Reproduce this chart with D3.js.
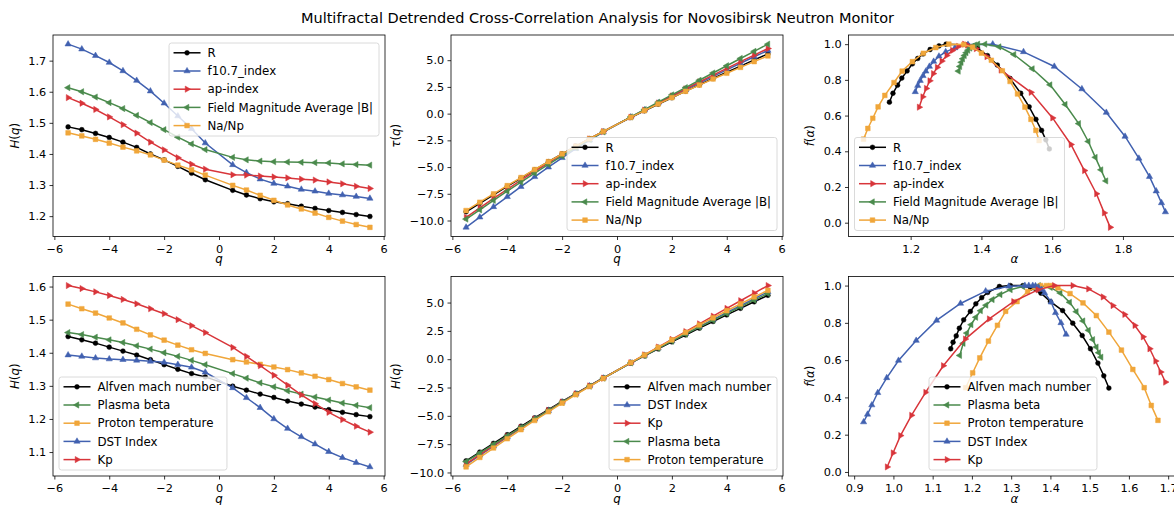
<!DOCTYPE html>
<html><head><meta charset="utf-8">
<script src="https://cdn.jsdelivr.net/npm/d3@7"></script>
<style>
body{margin:0;background:#fff;}
svg text{font-family:"DejaVu Sans",sans-serif;fill:#000;}
</style></head><body>
<svg id="chart" width="1174" height="505"></svg>
<script>
// ---------------- data ----------------
const qValues = [-5.5,-5,-4.5,-4,-3.5,-3,-2.5,-2,-1.5,-1,-0.5,0.5,1,1.5,2,2.5,3,3.5,4,4.5,5,5.5];

const topLabels = ["R","f10.7_index","ap-index","Field Magnitude Average |B|","Na/Np"];
const bottomLabels = ["Alfven mach number","Plasma beta","Proton temperature","DST Index","Kp"];
const bottomTauLabels = ["Alfven mach number","DST Index","Kp","Plasma beta","Proton temperature"];

// H(q) top row
const H_R     = [1.487,1.478,1.466,1.453,1.438,1.421,1.400,1.381,1.360,1.338,1.317,1.283,1.268,1.256,1.246,1.240,1.232,1.225,1.218,1.212,1.205,1.199];
const H_f107  = [1.753,1.737,1.716,1.694,1.667,1.636,1.602,1.563,1.522,1.481,1.435,1.365,1.340,1.319,1.305,1.296,1.286,1.280,1.273,1.268,1.263,1.257];
const H_ap    = [1.581,1.563,1.543,1.519,1.494,1.467,1.438,1.413,1.388,1.367,1.351,1.333,1.332,1.329,1.326,1.323,1.319,1.316,1.310,1.304,1.296,1.289];
const H_field = [1.613,1.600,1.583,1.565,1.546,1.524,1.501,1.478,1.454,1.432,1.414,1.389,1.381,1.377,1.375,1.374,1.373,1.372,1.371,1.368,1.366,1.364];
const H_nanp  = [1.468,1.458,1.447,1.435,1.422,1.410,1.397,1.380,1.364,1.349,1.332,1.299,1.284,1.267,1.251,1.236,1.223,1.210,1.196,1.184,1.173,1.164];

// tau(q) top row
const tau_R     = [-9.18,-8.39,-7.60,-6.81,-6.03,-5.26,-4.50,-3.76,-3.04,-2.34,-1.66,-0.36,0.27,0.88,1.49,2.10,2.70,3.29,3.87,4.45,5.03,5.59];
const tau_f107  = [-10.64,-9.69,-8.72,-7.78,-6.83,-5.91,-5.01,-4.13,-3.28,-2.48,-1.72,-0.32,0.34,0.98,1.61,2.24,2.86,3.48,4.09,4.71,5.32,5.91];
const tau_ap    = [-9.70,-8.82,-7.94,-7.08,-6.23,-5.40,-4.60,-3.83,-3.08,-2.37,-1.68,-0.33,0.33,0.99,1.65,2.31,2.96,3.61,4.24,4.87,5.48,6.09];
const tau_field = [-9.87,-9.00,-8.12,-7.26,-6.41,-5.57,-4.75,-3.96,-3.18,-2.43,-1.71,-0.31,0.38,1.07,1.75,2.44,3.12,3.80,4.48,5.16,5.83,6.50];
const tau_nanp  = [-9.07,-8.29,-7.51,-6.74,-5.98,-5.23,-4.49,-3.76,-3.05,-2.35,-1.67,-0.35,0.28,0.90,1.50,2.09,2.67,3.24,3.78,4.33,4.87,5.40];

// f(alpha) top row
const alpha_R     = [1.592,1.582,1.570,1.554,1.535,1.511,1.481,1.445,1.417,1.389,1.360,1.300,1.280,1.255,1.235,1.220,1.205,1.190,1.175,1.163,1.150,1.140];
const fa_R        = [0.413,0.464,0.517,0.579,0.649,0.725,0.808,0.883,0.936,0.977,0.996,1.000,0.990,0.970,0.945,0.920,0.890,0.850,0.810,0.770,0.725,0.675];
const alpha_f107  = [1.920,1.909,1.894,1.875,1.845,1.806,1.753,1.684,1.606,1.519,1.432,1.362,1.325,1.299,1.280,1.265,1.253,1.243,1.235,1.227,1.220,1.213];
const fa_f107     = [0.060,0.111,0.177,0.258,0.360,0.483,0.617,0.749,0.875,0.957,1.000,0.998,0.979,0.957,0.932,0.903,0.875,0.848,0.823,0.796,0.768,0.733];
const alpha_ap    = [1.764,1.747,1.725,1.691,1.653,1.601,1.540,1.455,1.415,1.385,1.360,1.352,1.335,1.318,1.302,1.288,1.275,1.264,1.254,1.244,1.234,1.224];
const fa_ap       = [-0.026,0.055,0.162,0.292,0.438,0.587,0.730,0.855,0.930,0.975,0.995,1.000,0.987,0.965,0.937,0.905,0.870,0.835,0.795,0.752,0.705,0.647];
const alpha_field = [1.752,1.738,1.722,1.702,1.675,1.637,1.594,1.544,1.492,1.450,1.410,1.390,1.381,1.374,1.368,1.362,1.357,1.352,1.347,1.343,1.339,1.335];
const fa_field    = [0.234,0.296,0.366,0.455,0.555,0.662,0.772,0.862,0.942,0.985,1.000,1.000,0.995,0.988,0.978,0.966,0.952,0.936,0.918,0.898,0.875,0.849];
const alpha_nanp  = [1.563,1.554,1.540,1.523,1.502,1.481,1.459,1.428,1.400,1.375,1.350,1.308,1.271,1.236,1.205,1.176,1.153,1.127,1.108,1.093,1.079,1.067];
const fa_nanp     = [0.460,0.517,0.579,0.647,0.721,0.791,0.851,0.910,0.950,0.983,0.998,1.000,0.981,0.949,0.902,0.849,0.785,0.713,0.649,0.585,0.528,0.468];

// H(q) bottom row
const H_alfven = [1.449,1.439,1.429,1.417,1.405,1.393,1.379,1.364,1.350,1.337,1.327,1.299,1.287,1.275,1.265,1.254,1.245,1.236,1.228,1.220,1.213,1.207];
const H_plasma = [1.461,1.455,1.447,1.439,1.431,1.421,1.411,1.400,1.389,1.377,1.364,1.337,1.323,1.309,1.297,1.285,1.275,1.266,1.257,1.248,1.241,1.234];
const H_proton = [1.547,1.533,1.520,1.505,1.490,1.471,1.454,1.438,1.423,1.409,1.398,1.379,1.372,1.365,1.357,1.349,1.339,1.329,1.319,1.307,1.297,1.287];
const H_dst    = [1.393,1.389,1.384,1.381,1.379,1.377,1.374,1.371,1.364,1.356,1.341,1.294,1.264,1.234,1.200,1.171,1.146,1.124,1.101,1.083,1.068,1.055];
const H_kp     = [1.603,1.594,1.584,1.573,1.561,1.548,1.533,1.518,1.500,1.482,1.461,1.416,1.389,1.361,1.332,1.302,1.273,1.246,1.220,1.198,1.178,1.160];

// second-row tau panel
const tau2_alfven = [-8.97,-8.20,-7.43,-6.67,-5.92,-5.18,-4.45,-3.73,-3.03,-2.34,-1.66,-0.35,0.29,0.91,1.53,2.14,2.74,3.33,3.91,4.49,5.07,5.64];
const tau2_dst    = [-9.30,-8.48,-7.68,-6.88,-6.08,-5.30,-4.55,-3.80,-3.07,-2.37,-1.68,-0.33,0.33,0.98,1.62,2.25,2.88,3.50,4.12,4.73,5.34,5.95];
const tau2_kp     = [-9.25,-8.43,-7.62,-6.82,-6.03,-5.27,-4.52,-3.78,-3.06,-2.36,-1.68,-0.31,0.38,1.07,1.75,2.44,3.12,3.80,4.48,5.16,5.83,6.50];
const tau2_plasma = [-9.04,-8.28,-7.51,-6.76,-6.01,-5.26,-4.53,-3.80,-3.08,-2.38,-1.68,-0.33,0.32,0.96,1.59,2.21,2.83,3.43,4.03,4.62,5.21,5.79];
const tau2_proton = [-9.51,-8.67,-7.84,-7.02,-6.22,-5.41,-4.64,-3.88,-3.13,-2.41,-1.70,-0.31,0.37,1.05,1.71,2.37,3.02,3.65,4.28,4.88,5.49,6.08];

// f(alpha) bottom row
const alpha_alfven = [1.549,1.536,1.521,1.502,1.481,1.457,1.431,1.400,1.376,1.350,1.330,1.298,1.270,1.240,1.225,1.210,1.196,1.179,1.168,1.160,1.152,1.146];
const fa_alfven    = [0.450,0.516,0.584,0.661,0.732,0.798,0.866,0.914,0.959,0.986,1.000,1.000,0.995,0.963,0.935,0.902,0.861,0.816,0.771,0.730,0.696,0.661];
const alpha_plasma = [1.529,1.523,1.517,1.508,1.497,1.483,1.466,1.449,1.425,1.400,1.370,1.330,1.298,1.272,1.252,1.236,1.222,1.210,1.198,1.187,1.178,1.169];
const fa_plasma    = [0.616,0.640,0.670,0.710,0.760,0.810,0.860,0.910,0.960,0.990,1.000,0.995,0.978,0.952,0.925,0.895,0.865,0.830,0.790,0.745,0.690,0.625];
const alpha_proton = [1.674,1.657,1.639,1.610,1.581,1.549,1.517,1.483,1.450,1.419,1.400,1.390,1.375,1.362,1.342,1.315,1.286,1.265,1.242,1.220,1.202,1.184];
const fa_proton    = [0.277,0.357,0.452,0.550,0.654,0.750,0.839,0.907,0.957,0.988,1.000,1.000,1.000,0.990,0.968,0.914,0.862,0.787,0.702,0.612,0.532,0.452];
const alpha_dst    = [1.440,1.427,1.413,1.402,1.385,1.378,1.370,1.362,1.355,1.345,1.335,1.294,1.235,1.171,1.110,1.058,1.013,0.983,0.960,0.945,0.934,0.924];
const fa_dst       = [0.738,0.800,0.854,0.911,0.961,0.978,0.990,0.998,1.000,1.000,1.000,0.996,0.970,0.904,0.813,0.705,0.598,0.505,0.425,0.359,0.309,0.268];
const alpha_kp     = [1.693,1.681,1.668,1.653,1.636,1.615,1.589,1.559,1.534,1.497,1.457,1.410,1.368,1.306,1.244,1.183,1.127,1.082,1.046,1.018,0.999,0.984];
const fa_kp        = [0.482,0.536,0.595,0.661,0.725,0.786,0.845,0.893,0.939,0.982,1.000,1.000,0.977,0.914,0.821,0.713,0.570,0.427,0.304,0.195,0.102,0.027];

// tick values
const qTicks = [-6,-4,-2,0,2,4,6];
const hTicksTop = [1.2,1.3,1.4,1.5,1.6,1.7];
const hTicksBottom = [1.1,1.2,1.3,1.4,1.5,1.6];
const tauTicks = [-10,-7.5,-5,-2.5,0,2.5,5];
const fTicks = [0,0.2,0.4,0.6,0.8,1.0];
const alphaTicksTop = [1.2,1.4,1.6,1.8];
const alphaTicksBottom = [0.9,1.0,1.1,1.2,1.3,1.4,1.5,1.6,1.7];

const titleText = "Multifractal Detrended Cross-Correlation Analysis for Novosibirsk Neutron Monitor";

// ---------------- style ----------------
const C = {black:"#000000", blue:"#4161b0", red:"#d8353a", green:"#4a8a4c", orange:"#f0a63a"};
const FS = 11.8, TFS = 11.3;

const svg = d3.select("#chart");

function markerPath(type){
  if(type==="o") return d3.symbol(d3.symbolCircle, 18)();
  if(type==="s") return d3.symbol(d3.symbolSquare, 22)();
  return d3.symbol(d3.symbolTriangle, 17)();
}
function markerRot(type){ return type===">"?90:(type==="<"?-90:0); }

function mk(label,color,marker,xs,ys){ return {label,color,marker,pts:xs.map((x,i)=>[x,ys[i]])}; }

let clipId=0;
function drawPanel(p){
  const g = svg.append("g").attr("transform",`translate(${p.left},${p.top})`);
  const w=p.width,h=p.height;
  const xs=p.series.flatMap(s=>s.pts.map(d=>d[0])), ys=p.series.flatMap(s=>s.pts.map(d=>d[1]));
  const [x0,x1]=d3.extent(xs),[y0,y1]=d3.extent(ys);
  const x=d3.scaleLinear().domain([x0-0.05*(x1-x0),x1+0.05*(x1-x0)]).range([0,w]);
  const y=d3.scaleLinear().domain([y0-0.05*(y1-y0),y1+0.05*(y1-y0)]).range([h,0]);

  const id="clip"+(clipId++);
  g.append("clipPath").attr("id",id).append("rect").attr("width",w).attr("height",h);
  const plot=g.append("g").attr("clip-path",`url(#${id})`);
  const line=d3.line().x(d=>x(d[0])).y(d=>y(d[1]));
  p.series.forEach(s=>{
    plot.append("path").attr("d",line(s.pts)).attr("fill","none").attr("stroke",s.color).attr("stroke-width",1.5);
    plot.selectAll(null).data(s.pts).enter().append("path")
      .attr("d",markerPath(s.marker))
      .attr("transform",d=>`translate(${x(d[0])},${y(d[1])}) rotate(${markerRot(s.marker)})`)
      .attr("fill",s.color).attr("stroke",s.color).attr("stroke-width",0.5);
  });

  const xa=g.append("g").attr("transform",`translate(0,${h})`)
    .call(d3.axisBottom(x).tickValues(p.xTicks).tickFormat(p.xFmt).tickSize(3.5).tickPadding(4.5));
  const ya=g.append("g").call(d3.axisLeft(y).tickValues(p.yTicks).tickFormat(p.yFmt).tickSize(3.5).tickPadding(3.2));
  [xa,ya].forEach(a=>{
    a.select(".domain").remove();
    a.selectAll("line").attr("stroke","#000").attr("stroke-width",0.8);
    a.selectAll("text").attr("font-size",TFS).attr("font-family","DejaVu Sans").attr("fill","#000");
  });
  g.append("rect").attr("width",w).attr("height",h).attr("fill","none").attr("stroke","#000").attr("stroke-width",0.8);

  // axis labels
  let minX=0;
  ya.selectAll("text").each(function(){ const bb=this.getBBox(); minX=Math.min(minX, -3.5-3.2-bb.width); });
  const yl=g.append("text").attr("transform",`translate(${minX-9.4},${h/2}) rotate(-90)`)
    .attr("text-anchor","middle").attr("font-size",FS);
  p.yLabel.forEach(part=>yl.append("tspan").text(part[0]).attr("font-style",part[1]?"italic":"normal"));
  const xl=g.append("text").attr("x",w/2).attr("y",h+26.5).attr("text-anchor","middle").attr("font-size",FS);
  p.xLabel.forEach(part=>xl.append("tspan").text(part[0]).attr("font-style",part[1]?"italic":"normal"));

  // legend
  const lg=g.append("g");
  const tmp=lg.append("g");
  let tw=0;
  p.series.forEach(s=>{ const t=tmp.append("text").attr("font-size",FS).text(s.label); tw=Math.max(tw,t.node().getComputedTextLength()); });
  tmp.remove();
  const bw=38.5+tw+6, bh=93;
  let bx,by;
  const inset=6;
  if(p.legend.loc==="upper right"){bx=w-inset-bw;by=8;}
  else if(p.legend.loc==="lower right"){bx=w-inset-bw;by=h-inset-bh;}
  else if(p.legend.loc==="lower left"){bx=inset;by=h-inset-bh;}
  else {bx=p.legend.x;by=h-inset-bh;}
  lg.attr("transform",`translate(${bx},${by})`);
  lg.append("rect").attr("width",bw).attr("height",bh).attr("rx",2.5).attr("ry",2.5)
    .attr("fill","#fff").attr("fill-opacity",0.8).attr("stroke","#d0d0d0").attr("stroke-width",0.8);
  p.series.forEach((s,i)=>{
    const cy=9.8+i*18.2;
    lg.append("line").attr("x1",4.5).attr("x2",31.5).attr("y1",cy).attr("y2",cy).attr("stroke",s.color).attr("stroke-width",1.5);
    lg.append("path").attr("d",markerPath(s.marker)).attr("transform",`translate(18,${cy}) rotate(${markerRot(s.marker)})`)
      .attr("fill",s.color).attr("stroke",s.color).attr("stroke-width",0.5);
    lg.append("text").attr("x",38.5).attr("y",cy).attr("dy","0.36em").attr("font-size",FS).text(s.label);
  });
}

const fmt1=d3.format(".1f"), fmtInt=d3.format("d");
const L=[53,451,848.5], W=332, T=[35,276.5], Hh=[201.5,199.5];
const hLab=[["H",1],["(",0],["q",1],[")",0]];
const tauLab=[["τ",1],["(",0],["q",1],[")",0]];
const fLab=[["f",1],["(",0],["α",1],[")",0]];

const topH=[mk(topLabels[0],C.black,"o",qValues,H_R),mk(topLabels[1],C.blue,"^",qValues,H_f107),mk(topLabels[2],C.red,">",qValues,H_ap),mk(topLabels[3],C.green,"<",qValues,H_field),mk(topLabels[4],C.orange,"s",qValues,H_nanp)];
const topTau=[mk(topLabels[0],C.black,"o",qValues,tau_R),mk(topLabels[1],C.blue,"^",qValues,tau_f107),mk(topLabels[2],C.red,">",qValues,tau_ap),mk(topLabels[3],C.green,"<",qValues,tau_field),mk(topLabels[4],C.orange,"s",qValues,tau_nanp)];
const topF=[mk(topLabels[0],C.black,"o",alpha_R,fa_R),mk(topLabels[1],C.blue,"^",alpha_f107,fa_f107),mk(topLabels[2],C.red,">",alpha_ap,fa_ap),mk(topLabels[3],C.green,"<",alpha_field,fa_field),mk(topLabels[4],C.orange,"s",alpha_nanp,fa_nanp)];
const botH=[mk(bottomLabels[0],C.black,"o",qValues,H_alfven),mk(bottomLabels[1],C.green,"<",qValues,H_plasma),mk(bottomLabels[2],C.orange,"s",qValues,H_proton),mk(bottomLabels[3],C.blue,"^",qValues,H_dst),mk(bottomLabels[4],C.red,">",qValues,H_kp)];
const botTau=[mk(bottomTauLabels[0],C.black,"o",qValues,tau2_alfven),mk(bottomTauLabels[1],C.blue,"^",qValues,tau2_dst),mk(bottomTauLabels[2],C.red,">",qValues,tau2_kp),mk(bottomTauLabels[3],C.green,"<",qValues,tau2_plasma),mk(bottomTauLabels[4],C.orange,"s",qValues,tau2_proton)];
const botF=[mk(bottomLabels[0],C.black,"o",alpha_alfven,fa_alfven),mk(bottomLabels[1],C.green,"<",alpha_plasma,fa_plasma),mk(bottomLabels[2],C.orange,"s",alpha_proton,fa_proton),mk(bottomLabels[3],C.blue,"^",alpha_dst,fa_dst),mk(bottomLabels[4],C.red,">",alpha_kp,fa_kp)];

drawPanel({left:L[0],top:T[0],width:W,height:Hh[0],series:topH,xTicks:qTicks,xFmt:fmtInt,yTicks:hTicksTop,yFmt:fmt1,xLabel:[["q",1]],yLabel:hLab,legend:{loc:"upper right"}});
drawPanel({left:L[1],top:T[0],width:W,height:Hh[0],series:topTau,xTicks:qTicks,xFmt:fmtInt,yTicks:tauTicks,yFmt:fmt1,xLabel:[["q",1]],yLabel:tauLab,legend:{loc:"lower right"}});
drawPanel({left:L[2],top:T[0],width:W,height:Hh[0],series:topF,xTicks:alphaTicksTop,xFmt:fmt1,yTicks:fTicks,yFmt:fmt1,xLabel:[["α",1]],yLabel:fLab,legend:{loc:"lower left"}});
drawPanel({left:L[0],top:T[1],width:W,height:Hh[1],series:botH,xTicks:qTicks,xFmt:fmtInt,yTicks:hTicksBottom,yFmt:fmt1,xLabel:[["q",1]],yLabel:hLab,legend:{loc:"lower left"}});
drawPanel({left:L[1],top:T[1],width:W,height:Hh[1],series:botTau,xTicks:qTicks,xFmt:fmtInt,yTicks:tauTicks,yFmt:fmt1,xLabel:[["q",1]],yLabel:hLab,legend:{loc:"lower right"}});
drawPanel({left:L[2],top:T[1],width:W,height:Hh[1],series:botF,xTicks:alphaTicksBottom,xFmt:fmt1,yTicks:fTicks,yFmt:fmt1,xLabel:[["α",1]],yLabel:fLab,legend:{loc:"x",x:80.5}});

svg.append("text").attr("x",597.5).attr("y",23).attr("text-anchor","middle").attr("font-size",14.5).text(titleText);
</script></body></html>
